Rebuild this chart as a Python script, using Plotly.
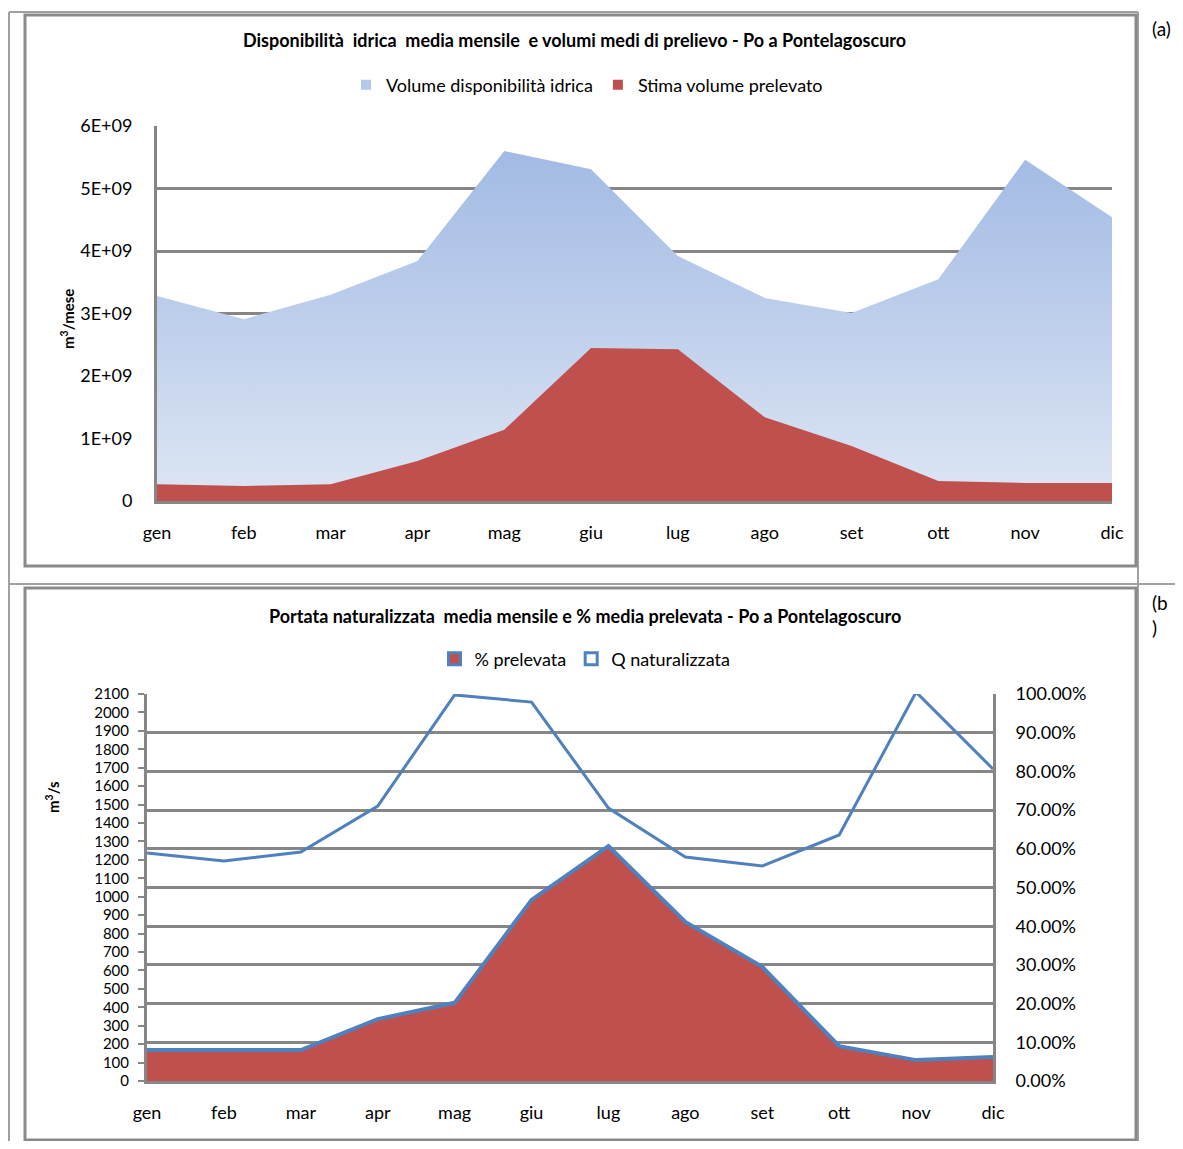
import plotly.graph_objects as go

# dimensioni della pagina e margine del body (8px di default)
W, H = 1183, 1149
OFF = 8
FW, FH = W - 2 * OFF, H - 2 * OFF

# dati
mesi = ['gen', 'feb', 'mar', 'apr', 'mag', 'giu', 'lug', 'ago', 'set', 'ott', 'nov', 'dic']

# (a) volumi mensili (m3/mese)
vol_disponibile = [3.28e9, 2.91e9, 3.30e9, 3.84e9, 5.60e9, 5.31e9, 3.92e9, 3.25e9, 3.01e9, 3.55e9, 5.46e9, 4.54e9]
vol_prelevato = [0.27e9, 0.24e9, 0.27e9, 0.64e9, 1.14e9, 2.45e9, 2.43e9, 1.34e9, 0.88e9, 0.32e9, 0.29e9, 0.29e9]
ticks_a = [0, 1e9, 2e9, 3e9, 4e9, 5e9, 6e9]
ticks_a_text = ['0', '1E+09', '2E+09', '3E+09', '4E+09', '5E+09', '6E+09']

# (b) portata (m3/s) e % prelevata
q_naturalizzata = [1237, 1194, 1243, 1492, 2095, 2056, 1481, 1215, 1167, 1335, 2110, 1693]
perc_prelevata = [0.080, 0.080, 0.080, 0.160, 0.202, 0.468, 0.607, 0.411, 0.295, 0.090, 0.054, 0.062]

ROSSO = '#C0504D'
BLU = '#4F81BD'
GRIGIO = '#868686'
FONT = 'Lato'


# pixel della pagina -> coordinate paper
def fx(p):
    return (p - OFF) / FW


def fy(p):
    return 1 - (p - OFF) / FH


fig = go.Figure()

# ---- grafico (a) ----
fig.add_trace(go.Scatter(
    x=mesi, y=vol_disponibile, mode='lines', fill='tozeroy',
    line=dict(width=0, color='#A2BAE4'),
    fillgradient=dict(type='vertical', colorscale=[[0, '#DDE6F4'], [1, '#A2BAE4']],
                      start=0, stop=max(vol_disponibile)),
    xaxis='x', yaxis='y', showlegend=False, hoverinfo='y'
))
fig.add_trace(go.Scatter(
    x=mesi, y=vol_prelevato, mode='lines', fill='tozeroy',
    line=dict(width=0, color=ROSSO), fillcolor=ROSSO,
    xaxis='x', yaxis='y', showlegend=False, hoverinfo='y'
))
# voci di legenda (a)
fig.add_trace(go.Scatter(x=[None], y=[None], mode='markers', name='Volume disponibilità idrica',
                         marker=dict(symbol='square', size=10, color='#B4C8EA'), legend='legend'))
fig.add_trace(go.Scatter(x=[None], y=[None], mode='markers', name='Stima volume prelevato',
                         marker=dict(symbol='square', size=10, color=ROSSO), legend='legend'))

# ---- grafico (b) ----
fig.add_trace(go.Scatter(
    x=mesi, y=perc_prelevata, mode='lines', fill='tozeroy',
    line=dict(width=4, color=BLU), fillcolor=ROSSO,
    xaxis='x2', yaxis='y3', showlegend=False
))
fig.add_trace(go.Scatter(
    x=mesi, y=q_naturalizzata, mode='lines',
    line=dict(width=3, color=BLU),
    xaxis='x2', yaxis='y2', showlegend=False
))
fig.add_trace(go.Scatter(x=[None], y=[None], mode='markers', name='% prelevata',
                         marker=dict(symbol='square', size=12, color=ROSSO, line=dict(color=BLU, width=3)),
                         legend='legend2'))
fig.add_trace(go.Scatter(x=[None], y=[None], mode='markers', name='Q naturalizzata',
                         marker=dict(symbol='square', size=12, color='white', line=dict(color=BLU, width=3)),
                         legend='legend2'))

tick_font = dict(family=FONT, size=18, color='black')
tick_font_fitto = dict(family=FONT, size=15, color='black')
leg_font = dict(family=FONT, size=18, color='black')

fig.update_layout(
    width=FW, height=FH, autosize=False,
    margin=dict(l=0, r=0, t=0, b=0),
    paper_bgcolor='white', plot_bgcolor='rgba(0,0,0,0)',
    font=dict(family=FONT, color='black'),
    xaxis=dict(domain=[fx(157), fx(1112)], anchor='y', type='category', range=[0, 11],
               showgrid=False, ticks='', tickfont=tick_font, ticklabelstandoff=13,
               showline=True, linecolor=GRIGIO, linewidth=3, automargin=False),
    yaxis=dict(domain=[fy(501), fy(126)], anchor='x', range=[0, 6e9],
               tickvals=ticks_a, ticktext=ticks_a_text, tickfont=tick_font,
               showgrid=True, gridcolor=GRIGIO, gridwidth=2.5, zeroline=False,
               showline=True, linecolor=GRIGIO, linewidth=3, ticks='', ticklabelstandoff=18,
               automargin=False),
    xaxis2=dict(domain=[fx(147), fx(993)], anchor='y2', type='category', range=[0, 11],
                showgrid=False, ticks='', tickfont=tick_font, ticklabelstandoff=13,
                showline=True, linecolor=GRIGIO, linewidth=3, automargin=False),
    yaxis2=dict(domain=[fy(1081), fy(694)], anchor='x2', range=[0, 2100],
                tickvals=list(range(0, 2101, 100)), tickfont=tick_font_fitto,
                showgrid=False, zeroline=False, showline=True, linecolor=GRIGIO, linewidth=3,
                ticks='outside', ticklen=6, tickcolor=GRIGIO, tickwidth=2, ticklabelstandoff=6,
                automargin=False),
    yaxis3=dict(domain=[fy(1081), fy(694)], anchor='x2', overlaying='y2', side='right',
                range=[0, 1], tickvals=[i / 10 for i in range(11)], tickformat='.2%',
                tickfont=tick_font, showgrid=True, gridcolor=GRIGIO, gridwidth=2.5,
                zeroline=False, showline=True, linecolor=GRIGIO, linewidth=3,
                ticks='', ticklabelstandoff=16, automargin=False),
    legend=dict(orientation='h', x=fx(587), y=fy(85), xanchor='center', yanchor='middle',
                font=leg_font, bgcolor='rgba(0,0,0,0)', itemwidth=30),
    legend2=dict(orientation='h', x=fx(585), y=fy(659), xanchor='center', yanchor='middle',
                 font=leg_font, bgcolor='rgba(0,0,0,0)', itemwidth=30),
)

# titoli
fig.add_annotation(text='<b>Disponibilità  idrica  media mensile  e volumi medi di prelievo - Po a Pontelagoscuro</b>',
                   x=fx(574), y=fy(40), xref='paper', yref='paper', showarrow=False,
                   xanchor='center', yanchor='middle', font=dict(family=FONT, size=18))
fig.add_annotation(text='<b>Portata naturalizzata  media mensile e % media prelevata - Po a Pontelagoscuro</b>',
                   x=fx(585), y=fy(616), xref='paper', yref='paper', showarrow=False,
                   xanchor='center', yanchor='middle', font=dict(family=FONT, size=18))
# titoli assi
fig.add_annotation(text='<b>m<sup>3</sup>/mese</b>', textangle=-90,
                   x=fx(68), y=fy(319), xref='paper', yref='paper', showarrow=False,
                   xanchor='center', yanchor='middle', font=dict(family=FONT, size=15))
fig.add_annotation(text='<b>m<sup>3</sup>/s</b>', textangle=-90,
                   x=fx(52), y=fy(797), xref='paper', yref='paper', showarrow=False,
                   xanchor='center', yanchor='middle', font=dict(family=FONT, size=15))
# etichette pannelli
fig.add_annotation(text='(a)', x=fx(1150), y=fy(28), xref='paper', yref='paper', showarrow=False,
                   xanchor='left', yanchor='middle', font=dict(family=FONT, size=19))
fig.add_annotation(text='(b<br>)', x=fx(1150), y=fy(589), xref='paper', yref='paper', showarrow=False,
                   xanchor='left', yanchor='top', align='left', font=dict(family=FONT, size=19))

# bordi tabella e cornici
bordo = dict(color='#A0A0A0', width=2)
cornice = dict(color='#8A8A8A', width=3)
linee = [
    (9, 12, 9, H), (9, 12, 1138, 12), (1138, 12, 1138, H), (9, 584, W, 584),
]
for x0, y0, x1, y1 in linee:
    fig.add_shape(type='line', xref='paper', yref='paper',
                  x0=fx(x0), y0=fy(y0), x1=fx(x1), y1=fy(y1), line=bordo)
for y0, y1 in [(15, 566), (588, 1140)]:
    fig.add_shape(type='rect', xref='paper', yref='paper',
                  x0=fx(25), y0=fy(y0), x1=fx(1136), y1=fy(y1), line=cornice)

fig.write_html('out.html', config={'displayModeBar': False})
